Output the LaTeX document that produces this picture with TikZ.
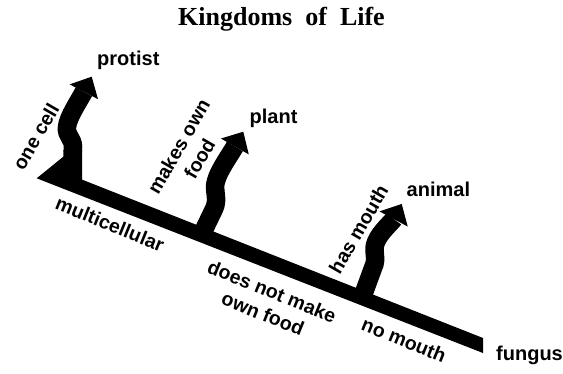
\documentclass[tikz,border=0pt]{standalone}
\usepackage{fontspec}
\setmainfont{Liberation Serif}
\setsansfont{Liberation Sans}
\usetikzlibrary{arrows.meta}

\begin{document}
\begin{tikzpicture}[x=1pt,y=-1pt,kingdom/.style={font=\sffamily\bfseries\fontsize{20}{22}\selectfont,inner sep=0pt,anchor=base west},trait/.style={font=\sffamily\bfseries\fontsize{19.5}{24}\selectfont,align=center,inner sep=0pt},branch/.style={line width=18.5pt,-{Triangle[length=17pt,width=32pt,line width=0pt]}}]
\useasboundingbox (0,0) rectangle (563,373);
\node[font=\rmfamily\bfseries\fontsize{26}{28}\selectfont,anchor=base] (title) at (281.5,25) {Kingdoms\ \ of\ \ Life};
% trunk
\coordinate (root) at (36.7,178.3);
\coordinate (end) at (483,345);
\fill (root) -- (483,353) -- (483,338) -- (82,179.6) -- (82,150) -- (63.3,150) -- (63.3,156.7) -- cycle;
% kingdoms
\node[kingdom] (protist) at (97,65.5) {protist};
\node[kingdom] (plant) at (249.5,123) {plant};
\node[kingdom] (animal) at (406.5,196.5) {animal};
\node[kingdom] (fungus) at (496,360.5) {fungus};
% branches
\coordinate (p0) at (72.7,152);
\coordinate (p1) at (91.7,76.7);
\coordinate (q0) at (201,236);
\coordinate (q1) at (243.3,131.7);
\coordinate (a0) at (362,298);
\coordinate (a1) at (401.7,204);
\draw[branch] (p0) -- (73,147) .. controls (73,138) and (66,136) .. (67,127) .. controls (68,117) and (79,101) .. (p1);
\draw[branch] (q0) -- (214,209) .. controls (219,199) and (213,190) .. (216,181) .. controls (219,170) and (230,155) .. (q1);
\draw[branch] (a0) -- (373,268) .. controls (378,258) and (372,251) .. (376,242) .. controls (380,232) and (392,222) .. (a1);
% traits
\node[trait,rotate=60] (onecell) at (35.8,136.7) {one cell};
\node[trait,rotate=60] (makes) at (189,152.5) {makes own\\food};
\node[trait,rotate=60] (mouth) at (358.5,229) {has mouth};
\node[trait,rotate=-22] (multi) at (110,224) {multicellular};
\node[trait,rotate=-22] (nomake) at (267.5,302.5) {does not make\\own food};
\node[trait,rotate=-22] (nomouth) at (404,340) {no mouth};
\end{tikzpicture}
\end{document}
